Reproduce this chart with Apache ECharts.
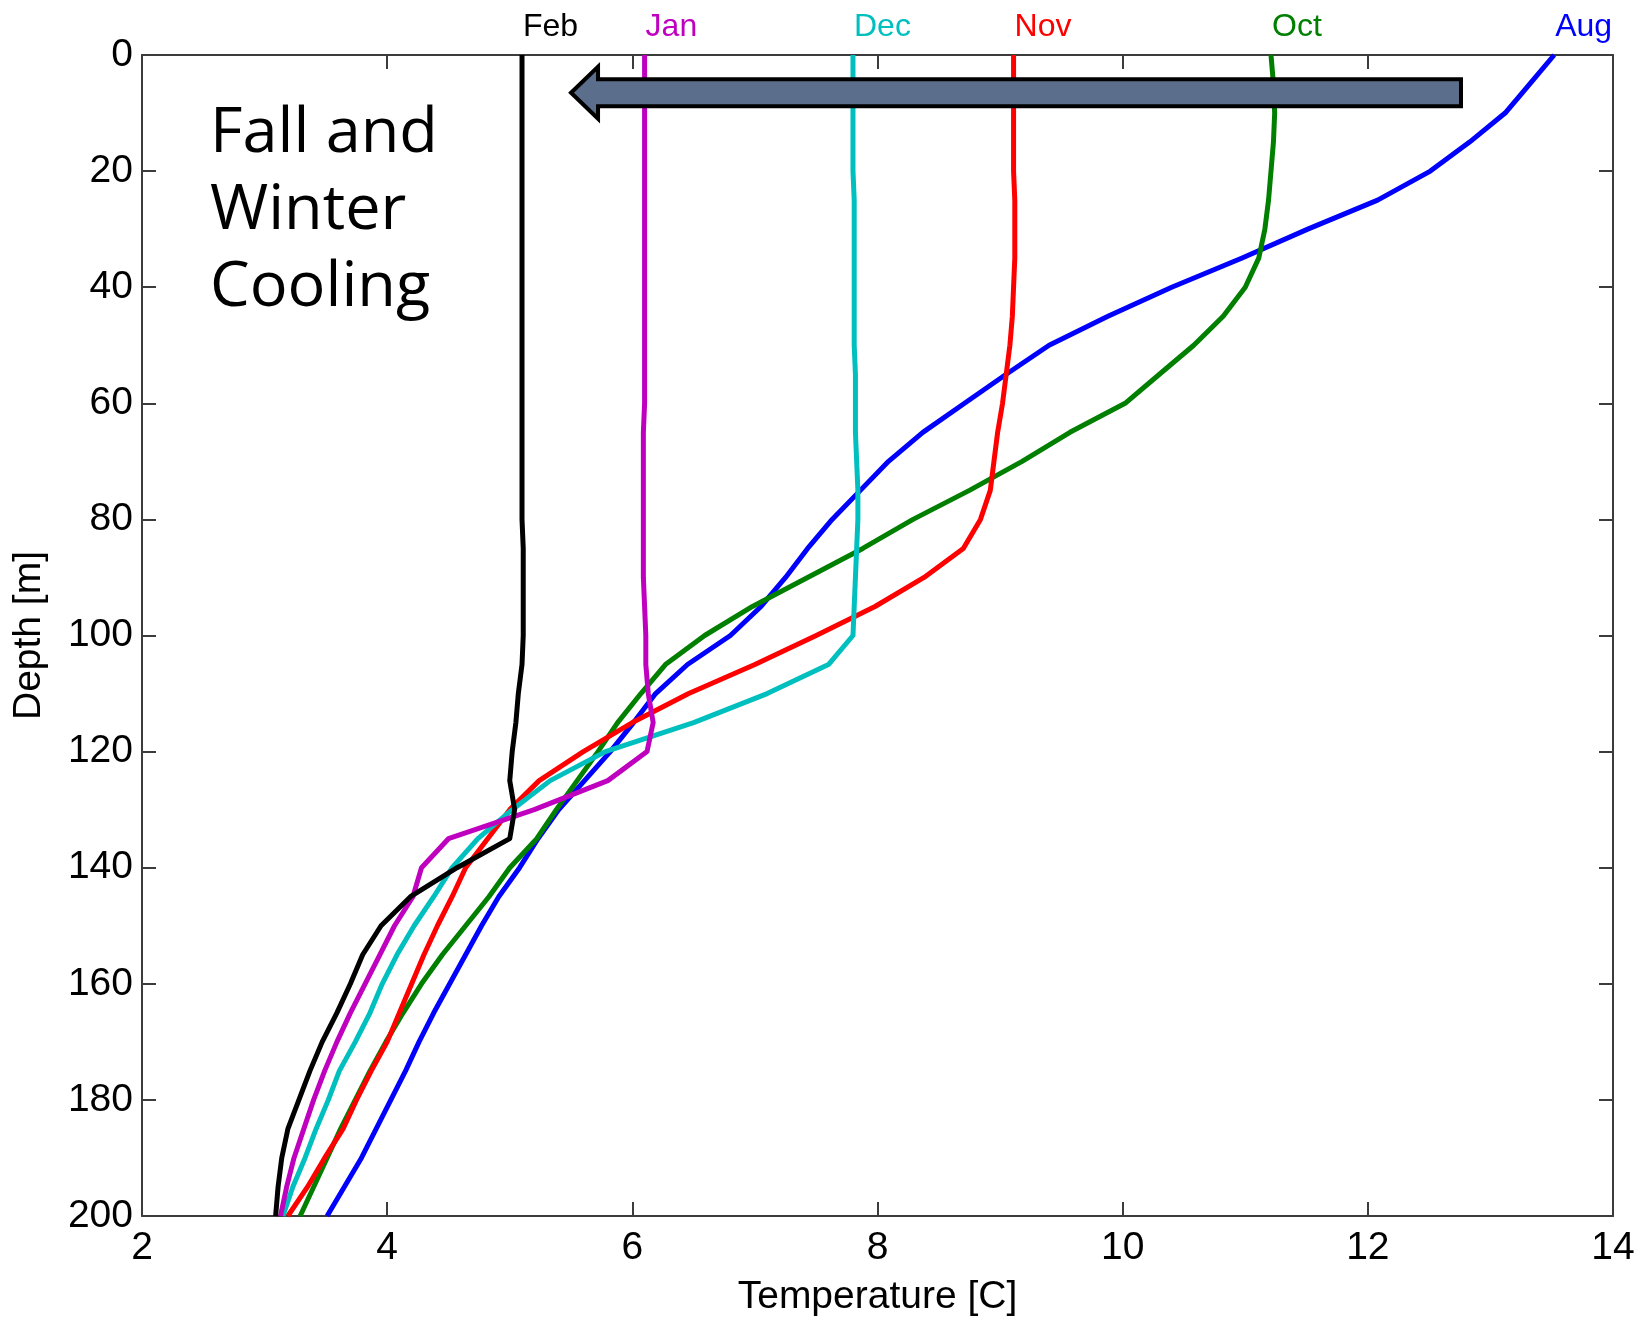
<!DOCTYPE html>
<html>
<head>
<meta charset="utf-8">
<script src="https://cdn.jsdelivr.net/npm/echarts@6/dist/echarts.min.js"></script>
<style>
  html, body { margin: 0; padding: 0; background: #fff; }
  #main { width: 1644px; height: 1322px; }
</style>
</head>
<body>
<div id="main"></div>
<script>
// depth levels [m], shared by every profile
var depths = [0, 5, 10, 15, 20, 25, 30, 35, 40, 45, 50, 55, 60, 65, 70, 75, 80, 85, 90, 95,
  100, 105, 110, 115, 120, 125, 130, 135, 140, 145, 150, 155, 160, 165, 170, 175, 180, 185, 190, 195, 200];

// temperature [C] at each depth
var tAug = [13.52, 13.32, 13.12, 12.83, 12.51, 12.08, 11.51, 10.97, 10.40, 9.88, 9.40, 9.05, 8.71, 8.37, 8.09, 7.86, 7.63, 7.43, 7.25, 7.05,
  6.80, 6.45, 6.19, 6.01, 5.82, 5.61, 5.40, 5.23, 5.08, 4.91, 4.77, 4.64, 4.51, 4.38, 4.26, 4.15, 4.03, 3.91, 3.79, 3.65, 3.51];
var tOct = [11.21, 11.23, 11.24, 11.23, 11.21, 11.19, 11.16, 11.11, 11.00, 10.82, 10.58, 10.30, 10.02, 9.57, 9.18, 8.75, 8.29, 7.88, 7.43, 6.98,
  6.59, 6.27, 6.07, 5.88, 5.72, 5.55, 5.38, 5.22, 5.00, 4.83, 4.64, 4.45, 4.28, 4.13, 3.99, 3.86, 3.74, 3.62, 3.51, 3.40, 3.29];
var tNov = [9.11, 9.11, 9.11, 9.11, 9.11, 9.12, 9.12, 9.12, 9.11, 9.10, 9.08, 9.05, 9.02, 8.98, 8.95, 8.92, 8.84, 8.70, 8.38, 7.98,
  7.50, 7.00, 6.46, 6.00, 5.60, 5.24, 5.00, 4.82, 4.64, 4.53, 4.41, 4.30, 4.20, 4.10, 4.00, 3.87, 3.75, 3.64, 3.49, 3.35, 3.19];
var tDec = [7.80, 7.80, 7.80, 7.80, 7.80, 7.81, 7.81, 7.81, 7.81, 7.81, 7.81, 7.82, 7.82, 7.82, 7.83, 7.84, 7.84, 7.83, 7.82, 7.81,
  7.80, 7.60, 7.10, 6.50, 5.78, 5.33, 5.02, 4.74, 4.53, 4.38, 4.22, 4.08, 3.96, 3.86, 3.74, 3.61, 3.52, 3.42, 3.33, 3.23, 3.15];
var tJan = [6.10, 6.10, 6.10, 6.10, 6.10, 6.10, 6.10, 6.10, 6.10, 6.10, 6.10, 6.10, 6.10, 6.09, 6.09, 6.09, 6.09, 6.09, 6.09, 6.10,
  6.11, 6.11, 6.13, 6.17, 6.12, 5.80, 5.20, 4.50, 4.28, 4.21, 4.06, 3.94, 3.82, 3.70, 3.59, 3.49, 3.40, 3.32, 3.24, 3.18, 3.13];
var tFeb = [5.10, 5.10, 5.10, 5.10, 5.10, 5.10, 5.10, 5.10, 5.10, 5.10, 5.10, 5.10, 5.10, 5.10, 5.10, 5.10, 5.10, 5.11, 5.11, 5.11,
  5.11, 5.10, 5.07, 5.05, 5.02, 5.00, 5.04, 5.00, 4.57, 4.19, 3.95, 3.80, 3.70, 3.59, 3.47, 3.37, 3.28, 3.19, 3.14, 3.11, 3.09];

var months = ["Aug", "Oct", "Nov", "Dec", "Jan", "Feb"];
var profiles = [tAug, tOct, tNov, tDec, tJan, tFeb];
var colors = ["#0000ff", "#007f00", "#ff0000", "#00bfbf", "#bf00bf", "#000000"];

// arrow annotation, in data units: [tail temperature, head temperature, depth]
var arrowSpan = [12.76, 5.5, 6.5];
var noteText = "Fall and\nWinter\nCooling";

var axisColor = "#3c3c3c";
var fontFam = '"Liberation Sans", Arial, sans-serif';

var chart = echarts.init(document.getElementById("main"));

var seriesList = [];
for (var k = 0; k < months.length; k++) {
  var pts = [];
  for (var i = 0; i < depths.length; i++) {
    pts.push([profiles[k][i], depths[i]]);
  }
  seriesList.push({
    name: months[k],
    type: "line",
    data: pts,
    symbol: "none",
    smooth: false,
    lineStyle: { color: colors[k], width: 5, join: "round" },
    itemStyle: { color: colors[k] }
  });
}

function baseX(pos) {
  return {
    type: "value",
    position: pos,
    min: 2,
    max: 14,
    interval: 2,
    axisLine: { show: true, onZero: false, lineStyle: { color: axisColor, width: 2 } },
    axisTick: { show: true, inside: true, length: 14, lineStyle: { color: axisColor, width: 2 } },
    splitLine: { show: false }
  };
}
function baseY(pos) {
  return {
    type: "value",
    position: pos,
    inverse: true,
    min: 0,
    max: 200,
    interval: 20,
    axisLine: { show: true, onZero: false, lineStyle: { color: axisColor, width: 2 } },
    axisTick: { show: true, inside: true, length: 14, lineStyle: { color: axisColor, width: 2 } },
    splitLine: { show: false }
  };
}

var xBottom = baseX("bottom");
xBottom.name = "Temperature [C]";
xBottom.nameLocation = "middle";
xBottom.nameGap = 62;
xBottom.nameTextStyle = { fontSize: 39, color: "#000", fontFamily: fontFam };
xBottom.axisLabel = { show: true, fontSize: 39, color: "#000", fontFamily: fontFam, margin: 13 };
var xTop = baseX("top");
xTop.axisLabel = { show: false };

var yLeft = baseY("left");
yLeft.name = "Depth [m]";
yLeft.nameLocation = "middle";
yLeft.nameGap = 93;
yLeft.nameTextStyle = { fontSize: 39, color: "#000", fontFamily: fontFam };
yLeft.axisLabel = { show: true, fontSize: 39, color: "#000", fontFamily: fontFam, margin: 9 };
var yRight = baseY("right");
yRight.axisLabel = { show: false };

var option = {
  animation: false,
  backgroundColor: "#fff",
  grid: { left: 142, right: 31, top: 55, bottom: 106, containLabel: false, outerBoundsMode: "none" },
  xAxis: [xBottom, xTop],
  yAxis: [yLeft, yRight],
  series: seriesList
};
chart.setOption(option);

// month labels at the top of each profile, arrow and note placed from data coords
var graphics = [];
for (var k = 0; k < months.length; k++) {
  var p = chart.convertToPixel({ xAxisIndex: 0, yAxisIndex: 0 }, [profiles[k][0], depths[0]]);
  graphics.push({
    type: "text",
    x: p[0] + 1,
    y: p[1] - 28,
    style: {
      text: months[k],
      fill: colors[k],
      font: '32px "Liberation Sans", Arial, sans-serif',
      align: "left",
      verticalAlign: "middle"
    }
  });
}

var tail = chart.convertToPixel({ xAxisIndex: 0, yAxisIndex: 0 }, [arrowSpan[0], arrowSpan[2]]);
var tip = chart.convertToPixel({ xAxisIndex: 0, yAxisIndex: 0 }, [arrowSpan[1], arrowSpan[2]]);
var headLen = 27, headHalf = 26, shaftHalf = 13.5;
graphics.push({
  type: "polygon",
  z: 10,
  shape: {
    points: [
      [tip[0], tip[1]],
      [tip[0] + headLen, tip[1] - headHalf],
      [tip[0] + headLen, tip[1] - shaftHalf],
      [tail[0], tail[1] - shaftHalf],
      [tail[0], tail[1] + shaftHalf],
      [tip[0] + headLen, tip[1] + shaftHalf],
      [tip[0] + headLen, tip[1] + headHalf]
    ]
  },
  style: { fill: "#5b6f8d", stroke: "#000", lineWidth: 4, lineJoin: "miter" }
});

graphics.push({
  type: "text",
  x: 210,
  y: 96,
  z: 10,
  style: {
    text: noteText,
    fill: "#000",
    font: '63px "Open Sans", "Noto Sans", sans-serif',
    lineHeight: 77,
    align: "left",
    verticalAlign: "top"
  }
});

chart.setOption({ graphic: graphics });
</script>
</body>
</html>
